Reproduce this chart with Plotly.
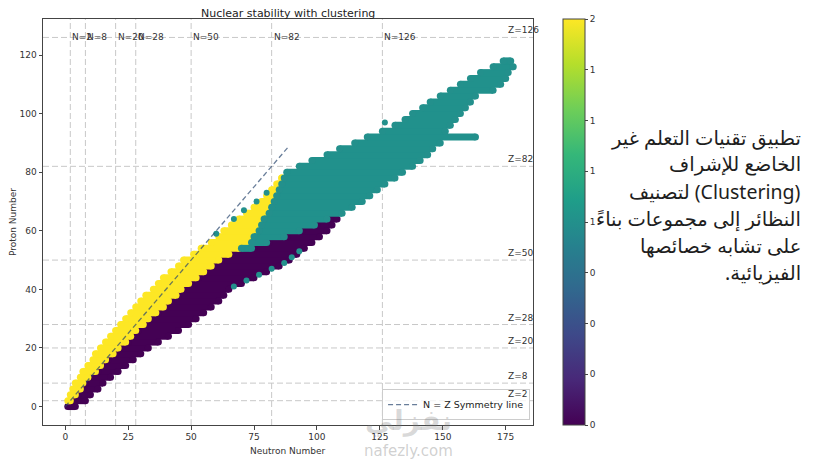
import plotly.graph_objects as go

# Proton number rows (every second Z) and the neutron span of each cluster
# cluster 0 (purple, neutron-rich side)
purple_z = [0, 2, 4, 6, 8, 10, 12, 14, 16, 18, 20, 22, 24, 26, 28, 30, 32, 34, 36, 38, 40,
            42, 44, 46, 48, 50, 52, 54, 56, 58, 60, 62, 64]
purple_lo = [1, 3, 5, 7, 8, 10, 13, 15, 17, 20, 22, 25, 27, 29, 32, 34, 37, 40, 42, 45, 47,
             50, 53, 56, 59, 62, 66, 75, 81, 88, 94, 100, 105]
purple_hi = [4, 8, 10, 13, 15, 18, 21, 24, 27, 30, 33, 37, 41, 45, 49, 52, 55, 58, 61, 63, 65,
             70, 75, 80, 85, 89, 92, 95, 98, 101, 104, 106, 108]

# cluster 2 (yellow, proton-rich side)
yellow_z = [2, 4, 6, 8, 10, 12, 14, 16, 18, 20, 22, 24, 26, 28, 30, 32, 34, 36, 38, 40,
            42, 44, 46, 48, 50, 52, 54, 56, 58, 60, 62, 64, 66, 68, 70, 72, 74, 76, 78]
yellow_lo = [1, 2, 3, 4, 6, 7, 9, 11, 12, 14, 16, 18, 20, 22, 24, 26, 28, 30, 32, 35,
             37, 39, 42, 45, 47, 51, 54, 58, 61, 63, 66, 69, 72, 75, 78, 80, 82, 84, 86]
yellow_hi = [2, 4, 6, 7, 9, 12, 14, 16, 19, 21, 24, 26, 28, 31, 33, 36, 39, 41, 44, 46,
             49, 52, 55, 58, 61, 65, 69, 73, 74, 76, 77, 78, 80, 81, 82, 83, 84, 85, 86]

# cluster 1 (teal, heavy nuclei)
teal_z = [54, 56, 58, 60, 62, 64, 66, 68, 70, 72, 74, 76, 78, 80, 82, 84, 86, 88, 90, 92,
          94, 96, 98, 100, 102, 104, 106, 108, 110, 112, 114, 116, 118]
teal_lo = [70, 74, 75, 77, 78, 79, 81, 82, 83, 84, 85, 86, 87, 88, 93, 98, 104, 109, 115, 120,
           126, 131, 135, 138, 142, 145, 149, 153, 157, 161, 165, 170, 174]
teal_hi = [74, 80, 87, 93, 99, 104, 110, 114, 118, 121, 124, 127, 131, 134, 138, 141, 144, 146, 149, 163,
           151, 153, 155, 157, 159, 161, 163, 170, 173, 175, 176, 178, 177]

# single teal nuclides sitting outside the bands
teal_dot_n = [60, 67, 71, 76, 80, 127, 67, 72, 77, 82, 87, 90, 93]
teal_dot_z = [59, 64, 67, 70, 73, 97, 41, 43, 45, 47, 49, 51, 53]

magic = [2, 8, 20, 28, 50, 82, 126]
sym_line = [0, 89]

viridis = {0: '#440154', 1: '#21918c', 2: '#fde725'}

arabic_lines = ['تطبيق تقنيات التعلم غير',
                'الخاضع للإشراف',
                'لتصنيف (Clustering)',
                'النظائر إلى مجموعات بناءً',
                'على تشابه خصائصها',
                'الفيزيائية.\u200f']


def segments(zs, lo, hi):
    xs, ys = [], []
    for z, a, b in zip(zs, lo, hi):
        xs += [a, b, None]
        ys += [z, z, None]
    return xs, ys


fig = go.Figure()

for label, zs, lo, hi in [(0, purple_z, purple_lo, purple_hi),
                          (2, yellow_z, yellow_lo, yellow_hi),
                          (1, teal_z, teal_lo, teal_hi)]:
    xs, ys = segments(zs, lo, hi)
    fig.add_trace(go.Scatter(
        x=xs, y=ys, mode='lines+markers', showlegend=False, hoverinfo='skip',
        line=dict(color=viridis[label], width=7),
        marker=dict(size=7, color=[label] * len(xs), colorscale='Viridis', cmin=0, cmax=2,
                    line=dict(width=0))
    ))

fig.add_trace(go.Scatter(
    x=teal_dot_n, y=teal_dot_z, mode='markers', showlegend=False, hoverinfo='skip',
    marker=dict(size=6, color=[1] * len(teal_dot_n), colorscale='Viridis', cmin=0, cmax=2,
                line=dict(width=0), showscale=True,
                colorbar=dict(x=1.061, xanchor='left', y=0.5, yanchor='middle', len=1,
                              thickness=22, xpad=0, ypad=0, outlinewidth=1, outlinecolor='#444',
                              ticks='outside', ticklen=3, tickcolor='#444',
                              tickvals=[0, 0.25, 0.5, 0.75, 1, 1.25, 1.5, 1.75, 2],
                              ticktext=['0', '0', '0', '0', '1', '1', '1', '1', '2'],
                              tickfont=dict(size=9, color='#333')))
))

fig.add_trace(go.Scatter(
    x=sym_line, y=sym_line, mode='lines', name='N = Z Symmetry line',
    line=dict(color='rgba(40,70,110,0.7)', width=1.3, dash='5px,3px')
))

for m in magic:
    fig.add_shape(type='line', x0=m, x1=m, y0=0, y1=1, xref='x', yref='paper',
                  line=dict(color='#c8c8c8', width=1, dash='6px,3px'), layer='below')
    fig.add_shape(type='line', x0=0, x1=1, y0=m, y1=m, xref='paper', yref='y',
                  line=dict(color='#c8c8c8', width=1, dash='6px,3px'), layer='below')
    fig.add_annotation(x=m, y=126, text=f'N={m}', showarrow=False, xanchor='left',
                       yanchor='middle', font=dict(size=9, color='#333'))
    fig.add_annotation(x=175, y=m, text=f'Z={m}', showarrow=False, xanchor='left',
                       yanchor='bottom', font=dict(size=9, color='#333'))

# side note, one line per annotation (plot area is 406 px tall)
for i, line in enumerate(arabic_lines):
    fig.add_annotation(xref='paper', yref='paper', x=1.551, y=(288 - i * 27) / 406,
                       xanchor='right', yanchor='middle', text=line, showarrow=False,
                       font=dict(size=19.5, color='#1e1e1e', family='Noto Sans, DejaVu Sans'))

fig.add_annotation(xref='paper', yref='paper', x=0.5, y=1.0135, text='Nuclear stability with clustering',
                   showarrow=False, xanchor='center', yanchor='middle', font=dict(size=11, color='#222'))
fig.add_annotation(xref='paper', yref='paper', x=0.5, y=-0.064, text='Neutron Number',
                   showarrow=False, xanchor='center', yanchor='middle', font=dict(size=9, color='#333'))
fig.add_annotation(xref='paper', yref='paper', x=-0.061, y=0.5, text='Proton Number',
                   textangle=-90, showarrow=False, xanchor='center', yanchor='middle',
                   font=dict(size=9, color='#333'))
# faint site watermark
fig.add_annotation(xref='paper', yref='paper', x=0.745, y=0.012, text='<b>نفزلي</b>',
                   showarrow=False, xanchor='center', yanchor='middle',
                   font=dict(size=28, color='rgba(120,120,120,0.28)'))
fig.add_annotation(xref='paper', yref='paper', x=0.745, y=-0.064, text='nafezly.com',
                   showarrow=False, xanchor='center', yanchor='middle',
                   font=dict(size=15, color='rgba(150,150,150,0.45)'))

# the page body adds 8 px, so the figure is 8 px smaller and shifted up/left
fig.update_layout(
    width=810, height=452,
    margin=dict(l=35, r=285, t=11, b=35, autoexpand=False),
    paper_bgcolor='white', plot_bgcolor='white',
    font=dict(family='DejaVu Sans', color='#333'),
    legend=dict(x=0.994, y=0.012, xanchor='right', yanchor='bottom',
                bgcolor='rgba(255,255,255,0.8)', bordercolor='#cccccc', borderwidth=1,
                font=dict(size=9.5, color='#222'), itemwidth=30),
)

fig.update_xaxes(range=[-8.85, 185.85], tickvals=[0, 25, 50, 75, 100, 125, 150, 175],
                 showgrid=False, zeroline=False, showline=True, mirror=True,
                 linecolor='#444', linewidth=1, ticks='outside', ticklen=3.5,
                 tickcolor='#444', tickfont=dict(size=9, color='#333'))
fig.update_yaxes(range=[-6.3, 132.3], tickvals=[0, 20, 40, 60, 80, 100, 120],
                 showgrid=False, zeroline=False, showline=True, mirror=True,
                 linecolor='#444', linewidth=1, ticks='outside', ticklen=3.5,
                 tickcolor='#444', tickfont=dict(size=9, color='#333'))

fig.write_html('out.html')
